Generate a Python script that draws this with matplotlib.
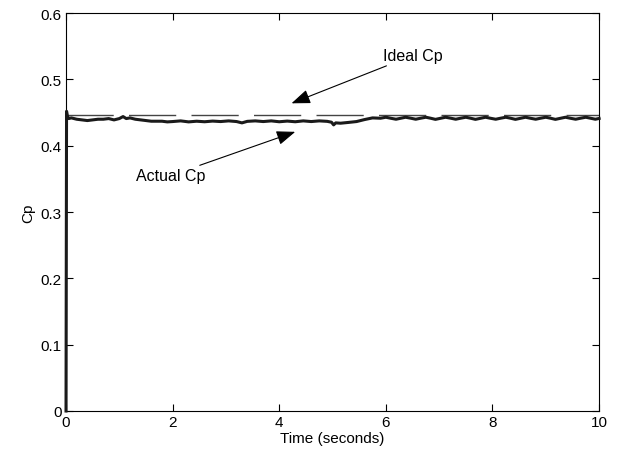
import matplotlib
matplotlib.use("Agg")
import matplotlib.pyplot as plt

plt.rcParams['font.family'] = ['Liberation Sans', 'DejaVu Sans']

# Actual Cp trace
t_actual = [0.0, 0.01, 0.025, 0.05, 0.1, 0.2, 0.3, 0.4, 0.5, 0.6, 0.7, 0.8, 0.9,
            1.0, 1.07, 1.13, 1.2, 1.3, 1.4, 1.5, 1.6, 1.7, 1.8, 1.9,
            2.0, 2.15, 2.3, 2.45, 2.6, 2.75, 2.9, 3.05, 3.2, 3.3, 3.4, 3.55, 3.7,
            3.85, 4.0, 4.15, 4.3, 4.45, 4.6, 4.75, 4.9, 4.98, 5.02, 5.06, 5.15,
            5.3, 5.45, 5.6, 5.75,
            5.90, 6.00, 6.09, 6.19, 6.28, 6.37, 6.47, 6.56, 6.65, 6.75, 6.84, 6.93,
            7.03, 7.12, 7.22, 7.31, 7.40, 7.50, 7.59, 7.68, 7.78, 7.87, 7.96, 8.06,
            8.15, 8.25, 8.34, 8.43, 8.53, 8.62, 8.71, 8.81, 8.90, 9.00, 9.09, 9.18,
            9.28, 9.37, 9.46, 9.56, 9.65, 9.75, 9.84, 9.93, 10.0]
cp_actual = [0.0, 0.452, 0.445, 0.441, 0.442, 0.440, 0.439, 0.438, 0.439, 0.440, 0.440, 0.441, 0.439,
             0.441, 0.444, 0.441, 0.442, 0.440, 0.439, 0.438, 0.437, 0.437, 0.437, 0.436,
             0.4365, 0.4375, 0.4360, 0.4370, 0.4362, 0.4372, 0.4365, 0.4375, 0.4365, 0.4345, 0.4368, 0.4375, 0.4365,
             0.4375, 0.4362, 0.4372, 0.4362, 0.4375, 0.4365, 0.4375, 0.4368, 0.4355, 0.4315, 0.4345, 0.4340,
             0.4352, 0.4365, 0.4395, 0.4420,
             0.4415, 0.4430, 0.4415, 0.4400, 0.4415, 0.4430, 0.4415, 0.4400, 0.4415, 0.4430, 0.4415, 0.4398,
             0.4415, 0.4430, 0.4415, 0.4400, 0.4415, 0.4430, 0.4415, 0.4398, 0.4415, 0.4430, 0.4415, 0.4400,
             0.4415, 0.4430, 0.4415, 0.4398, 0.4415, 0.4430, 0.4415, 0.4400, 0.4415, 0.4430, 0.4415, 0.4398,
             0.4415, 0.4430, 0.4415, 0.4400, 0.4415, 0.4430, 0.4415, 0.4400, 0.4412]

# Ideal Cp (constant)
t_ideal = [0.0, 10.0]
cp_ideal = [0.447, 0.447]

xticks = [0, 2, 4, 6, 8, 10]
yticks = [0, 0.1, 0.2, 0.3, 0.4, 0.5, 0.6]

fig = plt.figure(figsize=(6.17, 4.56), dpi=100)
ax = fig.add_axes([0.107, 0.0965, 0.864, 0.8725])

ax.plot(t_ideal, cp_ideal, color='#444444', lw=1.0, dashes=(34, 11))
ax.plot(t_actual, cp_actual, color='#1a1a1a', lw=2.2, solid_joinstyle='round',
        clip_on=False, zorder=3)

ax.set_xlim(0, 10)
ax.set_ylim(0, 0.6)
ax.set_xticks(xticks)
ax.set_xticklabels([str(v) for v in xticks])
ax.set_yticks(yticks)
ax.set_yticklabels(['0', '0.1', '0.2', '0.3', '0.4', '0.5', '0.6'])
ax.tick_params(direction='in', top=True, right=True, length=5, width=0.8,
               labelsize=11, pad=3)
for s in ax.spines.values():
    s.set_linewidth(0.8)

ax.set_xlabel('Time (seconds)', fontsize=11, labelpad=1)
ax.set_ylabel('Cp', fontsize=11, labelpad=4)

arrow = dict(arrowstyle='-|>,head_length=1.0,head_width=0.38', lw=0.8,
             color='k', shrinkA=0, shrinkB=0)
ax.annotate('Ideal Cp', xy=(4.23, 0.464), xytext=(5.94, 0.536),
            fontsize=11.5, va='center', ha='left', arrowprops=arrow)
ax.annotate('Actual Cp', xy=(4.30, 0.421), xytext=(2.61, 0.355),
            fontsize=11.5, va='center', ha='right', arrowprops=arrow)

fig.savefig('out.png', dpi=100)
